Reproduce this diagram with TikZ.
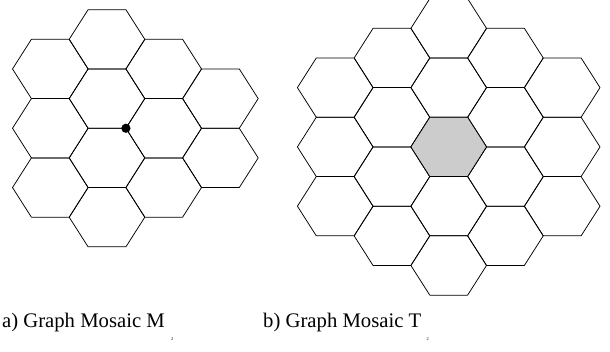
\documentclass[tikz,border=0pt]{standalone}
\usepackage{fontspec}
\setmainfont{Liberation Serif}
\tikzset{
  cell/.style={draw=black, line width=0.75pt, line join=round},
  centre cell/.style={cell, fill=black!20},
  caption/.style={anchor=base west, inner sep=0pt, font=\fontsize{20.7}{24}\selectfont},
  index/.style={anchor=base west, inner sep=0pt, font=\fontsize{4.4}{5}\selectfont}
}
% flat-topped hexagon centred at (#2,#3): half width 37.8, half height 29.65
\newcommand\hexcell[3][cell]{%
  \draw[#1] (#2,#3) ++(-37.8,0) -- ++(18.9,-29.65) -- ++(37.8,0)
    -- ++(18.9,29.65) -- ++(-18.9,29.65) -- ++(-37.8,0) -- cycle;}
\begin{document}
\begin{tikzpicture}[x=1pt,y=-1pt]
\useasboundingbox (0,0) rectangle (610,351);
% mosaic M2: columns of cells, rows counted in half steps
\foreach \i/\ks in {0/{1,3,5},1/{0,2,4,6},2/{1,3,5},3/{2,4}}
  \foreach \k in \ks {\hexcell{50.3+56.7*\i}{39.3+29.65*\k}}
\coordinate (hub) at (125.9,128.25);
\fill (hub) circle (4.6);
% mosaic T2: a hexagon of nineteen cells
\foreach \i/\ks in {0/{2,4,6},1/{1,3,5,7},2/{0,2,4,6,8},3/{1,3,5,7},4/{2,4,6}}
  \foreach \k in \ks {\hexcell{335.2+56.75*\i}{28.3+29.65*\k}}
\hexcell[centre cell]{448.7}{146.9}
% captions
\node[caption] (capa) at (1.9,327.7) {a) Graph Mosaic M};
\node[index] (suba) at (171,340.7) {2};
\node[caption] (capb) at (263,327.7) {b) Graph Mosaic T};
\node[index] (subb) at (426.5,340.7) {2};
\end{tikzpicture}
\end{document}
